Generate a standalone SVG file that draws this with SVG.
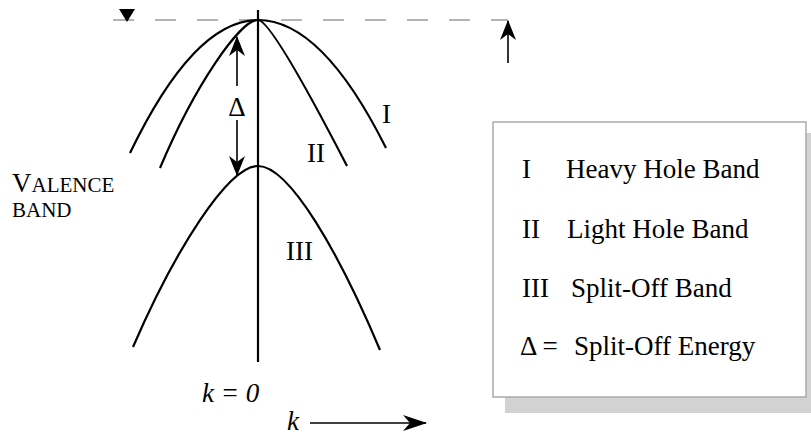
<svg xmlns="http://www.w3.org/2000/svg" width="811" height="436" viewBox="0 0 811 436">
<style>
.curve{fill:none;stroke:#000;stroke-width:2.2}
.t{font-family:"Liberation Serif","Times New Roman",serif;font-size:27px;fill:#000}
.it{font-style:italic}
.sc{font-size:21px}
</style>
<defs>
<marker id="ah" viewBox="0 0 20 16" markerWidth="20" markerHeight="16" refX="19" refY="8" orient="auto" markerUnits="userSpaceOnUse">
<path d="M0,0 L20,8 L0,16 L6,8 Z" fill="#000"/>
</marker>
<marker id="ahk" viewBox="0 0 24 16" markerWidth="24" markerHeight="16" refX="23" refY="8" orient="auto" markerUnits="userSpaceOnUse">
<path d="M0,0 L24,8 L0,16 L7,8 Z" fill="#000"/>
</marker>
</defs>
<rect width="811" height="436" fill="#fff"/>
<g id="connectors">
<line x1="113" y1="20" x2="508" y2="20" stroke="#b4b4b4" stroke-width="2.2" stroke-dasharray="21,21"/>
<path d="M119,9 L135,9 L127,22 Z" fill="#000"/>
<line x1="508" y1="63" x2="508" y2="21" stroke="#000" stroke-width="1.6" marker-end="url(#ah)"/>
<line x1="258" y1="10" x2="258" y2="362" stroke="#000" stroke-width="2.2"/>
<line x1="237" y1="86" x2="237" y2="37" stroke="#000" stroke-width="1.6" marker-end="url(#ah)"/>
<line x1="237" y1="120" x2="237" y2="175" stroke="#000" stroke-width="1.6" marker-end="url(#ah)"/>
<line x1="310" y1="423" x2="426" y2="423" stroke="#000" stroke-width="1.6" marker-end="url(#ahk)"/>
</g>
<g id="band-I">
<path class="curve" d="M130,153 Q194,20 258,20 Q322,20 386,148"/>
<text class="t" x="382" y="123">I</text>
</g>
<g id="band-II">
<path class="curve" d="M160,168 C195,85 240,20 258,20 C268,20 300,75 347,166"/>
<text class="t" x="307" y="162">II</text>
</g>
<g id="band-III">
<path class="curve" d="M133,347 C175,250 228,166 258,166 C290,166 340,255 380,350"/>
<text class="t" x="286" y="260">III</text>
</g>
<g id="delta-label">
<text class="t" x="237" y="116" text-anchor="middle">Δ</text>
</g>
<g id="valence-label">
<text class="t" x="12" y="192">V<tspan class="sc">ALENCE</tspan></text>
<text class="t sc" x="12" y="217">BAND</text>
</g>
<g id="k0-label">
<text class="t it" x="202" y="402">k = 0</text>
</g>
<g id="k-axis-label">
<text class="t it" x="287" y="430">k</text>
</g>
<g id="legend">
<rect x="505" y="133" width="310" height="280" fill="#d2d2d2"/>
<rect x="493" y="122" width="313" height="275" fill="#fff" stroke="#aaa" stroke-width="1.5"/>
<text class="t" x="522" y="178">I</text>
<text class="t" x="566" y="178">Heavy Hole Band</text>
<text class="t" x="522" y="238">II</text>
<text class="t" x="567" y="238">Light Hole Band</text>
<text class="t" x="522" y="297">III</text>
<text class="t" x="571" y="297">Split-Off Band</text>
<text class="t" x="520" y="355">Δ =</text>
<text class="t" x="574" y="355">Split-Off Energy</text>
</g>
</svg>
